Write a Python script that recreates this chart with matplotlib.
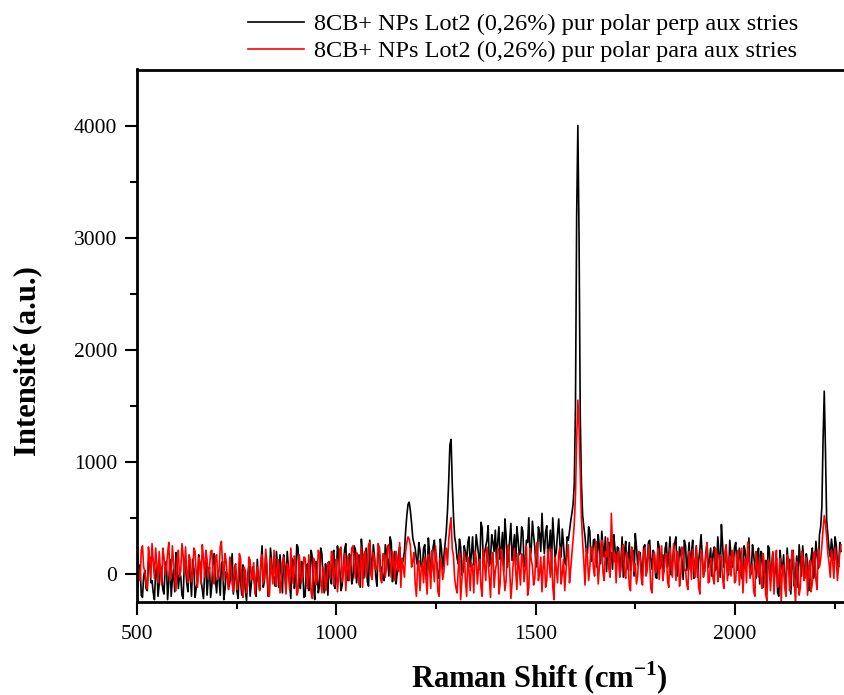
import matplotlib.pyplot as plt
import numpy as np

plt.rcParams['font.family'] = ['Liberation Serif', 'DejaVu Serif']
plt.rcParams['mathtext.fontset'] = 'custom'
plt.rcParams['mathtext.rm'] = 'Liberation Serif'

# Raman shift grids (cm-1): main points every 6 cm-1 and the points in between
shift = np.arange(502, 2267, 6)
shift_mid = np.arange(505, 2264, 6)

# polar perpendicular to the stripes (10 points per row)
perp = [
    -120, 80, -210, 30, -150, 150, -60, -230, 60, -90,
    20, -180, 110, -70, -200, 40, 190, -130, -20, -220,
    70, -160, -30, 130, -210, -80, 100, -140, 10, -190,
    60, -100, 180, -170, -40, 90, -230, 20, -120, 50,
    -180, 30, -220, -60, 80, -150, -10, -200, 60, -110,
    130, -140, 250, -60, 40, -190, 110, -30, 200, -120,
    10, 170, -160, 60, -220, 120, -40, 240, -130, 30,
    -200, 90, -60, 150, -230, 40, -110, 180, -170, 20,
    110, -90, 210, -40, 160, -150, 60, 270, -60, 130,
    -30, 220, 40, -120, 180, 90, -70, 300, 20, 150,
    -110, 240, 60, -60, 190, -20, 280, 50, -90, 170,
    20, 120, 380, 620, 560, 320, 230, 80, 210, 40,
    260, -20, 190, 60, 300, 100, -40, 220, 150, 380,
    820, 1200, 520, 260, 90, 240, 20, 190, 280, 60,
    330, 120, 260, 40, 410, 180, 300, 70, 350, 200,
    100, 420, 220, 20, 340, 160, 450, 230, 80, 310,
    190, 380, 60, 280, 150, 470, 240, 100, 360, 540,
    180, 430, 250, 90, 310, 200, 490, 150, 260, 80,
    300, 470, 620, 1500, 4000, 1400, 520, 330, 180, 380,
    120, 310, 60, 240, 380, 150, 20, 280, 190, 350,
    50, 230, 120, -30, 290, 140, 30, 210, 360, 80,
    190, -20, 260, 110, 300, 40, 170, -40, 240, 100,
    20, 280, 150, -10, 210, 330, 60, 180, -50, 250,
    130, 40, 300, 90, -30, 220, 160, 20, 270, 110,
    -20, 240, 80, 180, 440, 60, 230, -10, 170, 90,
    280, 30, 150, -60, 200, 110, -20, 260, 60, 140,
    -90, 180, 20, -150, 230, 60, -40, 140, -200, 90,
    170, -60, 40, -180, 210, 10, -120, 120, 250, -30,
    100, -80, 230, 60, 160, 350, 600, 1630, 480, 220,
    310, 120, 260, 60, 200,
]
perp_mid = [
    40, -190, -20, -130, 100, -80, -170, 20, -200, 70,
    -140, 60, -230, 130, -50, -160, 80, -10, -190, 110,
    -80, 120, -200, 40, -120, 170, -60, -220, 100, -30,
    -210, 140, -60, 30, -190, 110, -140, 0, -80, 180,
    -20, -160, 100, -190, 10, -240, 70, -90, -30, -200,
    -60, 90, -120, 160, -200, 230, -20, -110, 60, 170,
    -170, 80, 200, -90, 140, -130, 260, -70, 110, -210,
    60, -150, 210, -110, 110, -170, 230, -50, 90, -190,
    -20, 190, -130, 250, 30, -100, 220, -40, 180, -90,
    250, -80, 170, 310, -40, 230, -110, 130, 260, -20,
    180, 20, -50, 260, 120, 330, -70, 200, 10, 240,
    90, 200, 520, 640, 450, 270, 130, 280, 60, 230,
    60, 320, -30, 240, 130, -20, 310, 40, 270, 560,
    1150, 800, 330, 140, 310, -10, 250, 110, 330, 180,
    80, 350, 170, 460, 90, 250, 430, 140, 280, 390,
    290, 130, 370, 490, 60, 300, 120, 350, 420, 170,
    420, 90, 300, 500, 210, 340, 60, 420, 200, 310,
    370, 120, 390, 500, 150, 360, 260, 400, 100, 330,
    380, 540, 800, 3200, 3000, 800, 420, 200, 420, 110,
    300, 170, 350, 90, 240, 330, 260, 120, 40, 230,
    240, 20, 330, 200, 40, 280, 160, -20, 240, 170,
    60, 240, 20, 280, 130, 210, -30, 290, 50, 170,
    230, 60, 330, 90, 280, -20, 240, 120, 300, 30,
    280, 190, -40, 250, 120, 350, -10, 190, 60, 230,
    180, 30, 330, -30, 260, 110, 20, 300, 60, 240,
    50, 230, -30, 250, 80, 320, 10, 170, -40, 230,
    200, -120, 120, 250, -60, 190, 20, -170, 210, 30,
    -100, 230, 130, 60, -110, 160, 260, -20, 70, 180,
    -150, 150, -40, 290, 50, 420, 1200, 1100, 350, 150,
    220, 330, 90, 280,
]

# polar parallel to the stripes
para = [
    180, -60, 250, 20, -130, 140, 270, -40, 90, 200,
    -100, 150, 60, 280, -20, 110, -150, 210, 30, 160,
    240, -80, 120, 10, 200, -120, 80, 260, -30, 130,
    50, 210, -90, 170, 20, 290, -60, 110, -140, 60,
    -160, 90, -60, 140, -210, 30, -100, 120, -40, -180,
    60, -150, 170, -40, 100, -200, 30, 210, -110, 80,
    -60, 150, -180, 40, 230, -90, 110, -160, 60, -20,
    140, -130, 20, -220, 100, -50, 180, -170, 30, -90,
    70, 200, -110, 130, -30, 240, 20, -150, 160, 90,
    250, -40, 150, 60, -120, 200, 100, 280, -50, 130,
    40, 230, -80, 170, 60, 260, -30, 120, 200, 20,
    -120, 60, 200, 330, 250, 120, -90, 60, -150, 100,
    150, -180, 60, 210, -70, 120, -200, 90, 20, 230,
    300, 500, 160, -120, 40, -230, 90, -60, 150, -150,
    60, 200, -90, 130, -200, 80, 240, -40, 150, -120,
    90, -180, 220, 20, -60, 260, -220, 110, 30, 180,
    -100, 140, 40, -190, 230, 70, -40, 280, 10, -160,
    160, -60, 100, 220, -230, 50, 180, -90, 130, 20,
    260, 40, 300, 700, 1550, 900, 280, -100, 150, 60,
    230, -20, 180, 70, 300, -60, 150, 40, 540, 110,
    -80, 200, 40, 260, -40, 130, -150, 180, 90, -20,
    150, -100, 230, 30, 120, -170, 190, 60, -50, 250,
    20, 180, -120, 100, 270, -60, 140, -20, 200, 40,
    -140, 120, 220, -30, 80, -180, 160, 40, 280, -70,
    110, -90, 200, 30, 150, -130, 260, 70, -20, 180,
    -60, 210, 40, -170, 130, 280, -40, 90, -200, 60,
    150, -130, 60, -240, 100, 20, -180, 210, -60, -250,
    80, -200, 120, -50, 180, -260, 30, -120, 150, -30,
    -190, 120, -80, 200, -140, 60, 250, 520, 330, 100,
    210, -40, 150, 60, 260,
]
para_mid = [
    -20, 210, 60, -90, 240, -30, 110, 230, -80, 30,
    230, -10, 180, -60, 250, -40, 120, -30, 270, 0,
    20, 170, -70, 230, -10, 150, -90, 140, 210, -50,
    200, -20, 140, -50, 240, 70, 180, -60, 150, -90,
    70, -140, 180, -110, 60, -170, 150, -50, 100, -20,
    -70, 120, -80, 220, -150, 140, -90, -20, 130, -170,
    110, -40, 90, -140, 20, 160, -190, 170, -80, 150,
    -30, 170, -170, 140, -100, 210, -60, 60, -150, 100,
    -40, 170, 50, -160, 220, -70, 180, 80, -60, 230,
    60, 190, -100, 240, 160, -30, 260, -10, 190, 40,
    270, -40, 180, -30, 250, 100, 200, -60, 90, 280,
    140, -30, 280, 310, 60, 190, -200, 120, 30, -80,
    -40, 170, -130, 80, 250, -160, 140, -50, 180, 80,
    420, 220, -40, -170, 180, -60, 200, -200, 30, 100,
    -170, 140, 60, -120, 220, -60, 110, -210, 190, 30,
    230, -90, 130, -150, 210, 40, -80, 230, -140, 50,
    180, -70, 250, -120, 130, -100, 200, -60, 150, 60,
    -120, 220, -30, -110, 150, -80, 240, 10, -150, 170,
    -80, 180, 450, 1200, 1300, 500, 100, 230, -60, 240,
    50, 290, -90, 220, 10, 200, 320, -30, 230, 180,
    170, -30, 210, 0, 190, -110, 240, 20, -90, 200,
    -40, 190, -20, 260, -130, 150, 10, 230, 120, -60,
    160, -70, 230, -30, 130, 200, -110, 240, 30, -90,
    200, -50, 60, 240, -120, 210, -30, 170, -80, 140,
    -40, 230, -70, 170, -40, 200, -60, 160, 210, -80,
    170, -100, 230, 60, -80, 140, 40, -160, 200, -30,
    -70, 180, -180, 120, -150, 200, 90, -120, 140, 60,
    -130, 170, -150, 210, -90, 110, -190, 200, -60, 140,
    60, -160, 180, -50, 220, 130, 400, 450, 180, -30,
    120, 230, -60, 190,
]

labels = ['8CB+ NPs Lot2 (0,26%) pur polar perp aux stries',
          '8CB+ NPs Lot2 (0,26%) pur polar para aux stries']

# merge the two grids into one sorted spectrum
x_all = np.concatenate([shift, shift_mid])
order = np.argsort(x_all)
x_all = x_all[order]
perp_all = np.concatenate([perp, perp_mid])[order]
para_all = np.concatenate([para, para_mid])[order]

fig = plt.figure(figsize=(8.45, 6.95), dpi=100)
ax = fig.add_axes([0.162, 0.134, 0.838, 0.766])

ax.plot(x_all, perp_all, color='black', lw=1.2, label=labels[0])
ax.plot(x_all, para_all, color='red', lw=1.2, label=labels[1])

ax.set_xlim(500, 2276)
ax.set_ylim(-250, 4500)
ax.set_xticks([500, 1000, 1500, 2000])
ax.set_xticks([750, 1250, 1750, 2250], minor=True)
ax.set_yticks([0, 1000, 2000, 3000, 4000])
ax.set_yticks([500, 1500, 2500, 3500], minor=True)
ax.tick_params(which='major', direction='out', length=9, width=1.5, labelsize=15.5, pad=5)
ax.tick_params(which='minor', direction='out', length=5, width=1.5)
ax.tick_params(axis='x', pad=8)
ax.spines['right'].set_visible(False)
for s in ['left', 'bottom', 'top']:
    ax.spines[s].set_linewidth(2)

ax.set_xlabel('Raman Shift (cm$^{\\mathregular{-1}}$)', fontsize=22, fontweight='bold')
ax.set_ylabel('Intensité (a.u.)', fontsize=22, fontweight='bold')
ax.xaxis.set_label_coords(0.569, -0.108)
ax.yaxis.set_label_coords(-0.134, 0.453)

fig.legend(loc='upper left', bbox_to_anchor=(0.278, 1.0), frameon=False, fontsize=17.5,
           handlelength=2.3, handletextpad=0.4, labelspacing=0.2, borderaxespad=0.15)

plt.savefig('out.png')
